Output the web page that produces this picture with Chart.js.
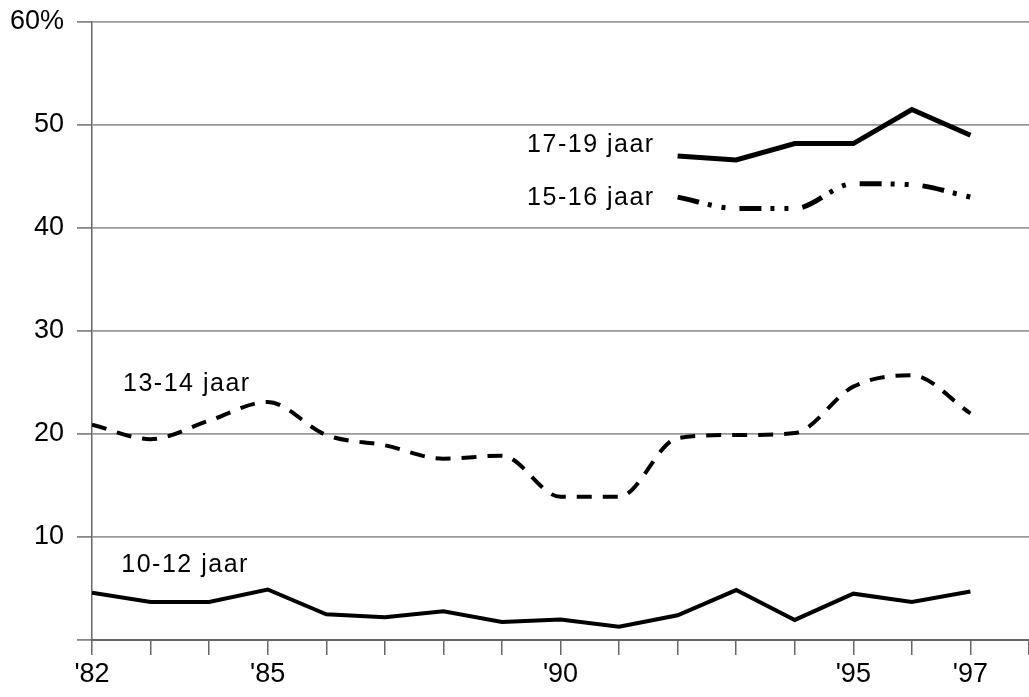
<!DOCTYPE html>
<html>
<head>
<meta charset="utf-8">
<script src="https://cdn.jsdelivr.net/npm/chart.js@4/dist/chart.umd.min.js"></script>
<style>
  html, body { margin: 0; padding: 0; background: #fff; }
  #wrap { width: 1029px; height: 697px; }
</style>
</head>
<body>
<div id="wrap"><canvas id="chart_one" width="1029" height="697"></canvas></div>
<script>

// years on the x axis ('82 .. '97)
var years = [82, 83, 84, 85, 86, 87, 88, 89, 90, 91, 92, 93, 94, 95, 96, 97];
var year_labels = { 82: "'82", 85: "'85", 90: "'90", 95: "'95", 97: "'97" };

// percentages per age group
var v_10_12 = [4.6, 3.7, 3.7, 4.9, 2.5, 2.2, 2.8, 1.75, 2.0, 1.3, 2.4, 4.85, 1.95, 4.5, 3.7, 4.7];
var v_13_14 = [20.9, 19.5, 21.3, 23.1, 19.9, 18.9, 17.6, 17.9, 13.9, 13.9, 19.6, 19.9, 20.1, 24.6, 25.7, 22.0];
var v_15_16 = [null, null, null, null, null, null, null, null, null, null, 43.0, 41.9, 41.9, 44.3, 44.2, 43.0];
var v_17_19 = [null, null, null, null, null, null, null, null, null, null, 47.0, 46.6, 48.2, 48.2, 51.5, 49.0];

var series_names = ["10-12 jaar", "13-14 jaar", "15-16 jaar", "17-19 jaar"];

// where the group names sit, in data units (year, percent at text baseline)
var name_spots = [[82.5, 6.6], [82.53, 24.2], [89.43, 42.2], [89.43, 47.4]];

function to_points(values){
    var pts = [];
    values.forEach(function (v, i) {
        pts.push({ x: years[i], y: v });
    });
    return pts;
}

var FONT = '"Liberation Sans", Arial, sans-serif';

var series_names_plugin = {
    id: 'series_names',
    afterDatasetsDraw: function (chart) {
        var c = chart.ctx;
        c.save();
        c.fillStyle = '#000';
        c.font = '25px ' + FONT;
        c.letterSpacing = '1.5px';
        c.textAlign = 'left';
        c.textBaseline = 'alphabetic';
        series_names.forEach(function (name, i) {
            var px = chart.scales.x.getPixelForValue(name_spots[i][0]);
            var py = chart.scales.y.getPixelForValue(name_spots[i][1]);
            c.fillText(name, px, py);
        });
        c.restore();
    }
};

var ctx = document.getElementById('chart_one').getContext('2d');

var chart = new Chart(ctx, {
    type: 'line',
    data: {
        datasets: [
            {
                label: series_names[0],
                data: to_points(v_10_12),
                borderColor: '#000',
                borderWidth: 4,
                pointRadius: 0,
                tension: 0,
                fill: false
            },
            {
                label: series_names[1],
                data: to_points(v_13_14),
                borderColor: '#000',
                borderWidth: 4,
                borderDash: [15, 11],
                pointRadius: 0,
                cubicInterpolationMode: 'monotone',
                fill: false
            },
            {
                label: series_names[2],
                data: to_points(v_15_16),
                borderColor: '#000',
                borderWidth: 5,
                borderDash: [22, 9, 4, 10, 4, 14],
                pointRadius: 0,
                cubicInterpolationMode: 'monotone',
                fill: false,
                spanGaps: false
            },
            {
                label: series_names[3],
                data: to_points(v_17_19),
                borderColor: '#000',
                borderWidth: 5,
                pointRadius: 0,
                tension: 0,
                fill: false,
                spanGaps: false
            }
        ]
    },
    options: {
        responsive: false,
        animation: false,
        devicePixelRatio: 1,
        layout: { padding: { top: 22, right: 0, left: 0, bottom: 0 } },
        plugins: {
            legend: { display: false },
            tooltip: { enabled: false }
        },
        scales: {
            x: {
                type: 'linear',
                min: 82,
                max: 98,
                afterFit: function (s) {
                    s.height = 57;
                    s.paddingLeft = 0;
                    s.paddingRight = 0;
                },
                border: { display: true, color: '#666', width: 2 },
                grid: {
                    drawOnChartArea: false,
                    drawTicks: true,
                    tickLength: 15,
                    tickColor: '#666',
                    lineWidth: 1.5
                },
                ticks: {
                    stepSize: 1,
                    autoSkip: false,
                    maxRotation: 0,
                    padding: 3,
                    color: '#000',
                    font: { family: FONT, size: 27 },
                    callback: function (v) { return year_labels[v] || ''; }
                }
            },
            y: {
                min: 0,
                max: 60,
                afterFit: function (s) {
                    s.width = 92;
                    s.paddingTop = 0;
                    s.paddingBottom = 0;
                },
                border: { display: true, color: '#666', width: 1.5 },
                grid: {
                    color: '#999',
                    lineWidth: 1.8,
                    tickLength: 15,
                    tickColor: '#888'
                },
                ticks: {
                    stepSize: 10,
                    padding: 13,
                    color: '#000',
                    font: { family: FONT, size: 27 },
                    callback: function (v) {
                        if (v === 0) return '';
                        if (v === 60) return '60%';
                        return '' + v;
                    }
                }
            }
        }
    },
    plugins: [series_names_plugin]
});

</script>
</body>
</html>
